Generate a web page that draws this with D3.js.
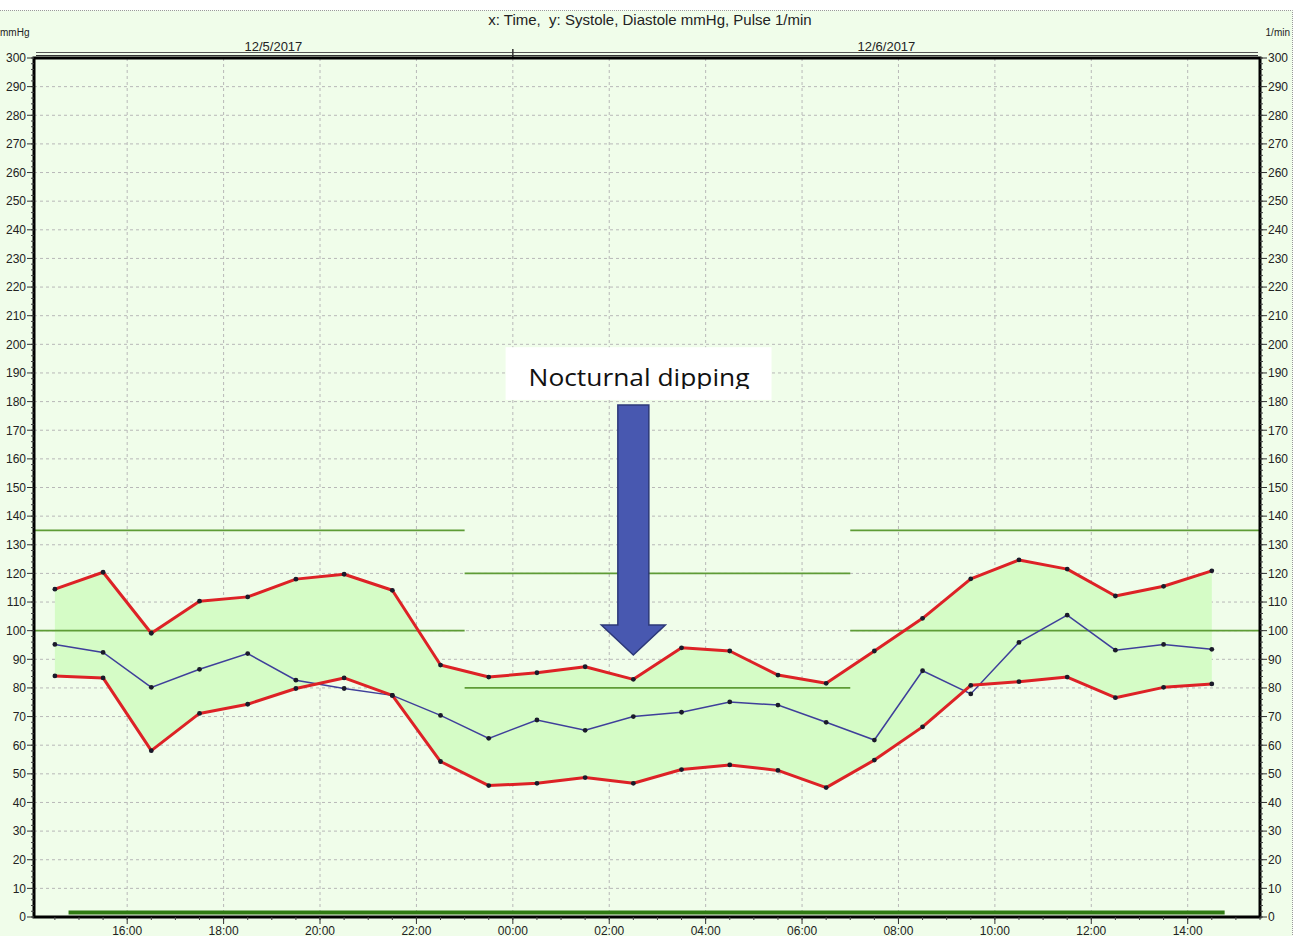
<!DOCTYPE html>
<html>
<head>
<meta charset="utf-8">
<script src="https://cdn.jsdelivr.net/npm/d3@7"></script>
<style>
  body { margin: 0; background: #fff; }
  svg { display: block; font-family: "Liberation Sans", Arial, sans-serif; }
  text { white-space: pre; }
</style>
</head>
<body>
<div id="chart"></div>
<script>
// measurement times (one reading per hour)
const times = [
  "2017-12-05T14:30", "2017-12-05T15:30", "2017-12-05T16:30", "2017-12-05T17:30",
  "2017-12-05T18:30", "2017-12-05T19:30", "2017-12-05T20:30", "2017-12-05T21:30",
  "2017-12-05T22:30", "2017-12-05T23:30", "2017-12-06T00:30", "2017-12-06T01:30",
  "2017-12-06T02:30", "2017-12-06T03:30", "2017-12-06T04:30", "2017-12-06T05:30",
  "2017-12-06T06:30", "2017-12-06T07:30", "2017-12-06T08:30", "2017-12-06T09:30",
  "2017-12-06T10:30", "2017-12-06T11:30", "2017-12-06T12:30", "2017-12-06T13:30",
  "2017-12-06T14:30"
];
const systole = [114.5, 120.4, 99.1, 110.3, 111.8, 118.0, 119.7, 114.1, 88.0, 83.8, 85.3, 87.4, 83.0,
  94.0, 92.9, 84.5, 81.6, 92.9, 104.3, 118.1, 124.7, 121.5, 112.1, 115.5, 120.9];
const diastole = [84.2, 83.5, 58.1, 71.1, 74.3, 79.8, 83.5, 77.4, 54.3, 45.9, 46.7, 48.7, 46.7,
  51.5, 53.1, 51.2, 45.2, 54.8, 66.4, 80.9, 82.2, 83.8, 76.6, 80.2, 81.4];
const pulse = [95.2, 92.4, 80.2, 86.5, 92.0, 82.7, 79.8, 77.4, 70.4, 62.4, 68.8, 65.2, 70.0,
  71.5, 75.1, 74.0, 68.0, 61.8, 86.0, 77.9, 95.9, 105.4, 93.2, 95.2, 93.5];

// day / night limit lines [start, end, value]
const limits = [
  ["2017-12-05T14:04", "2017-12-05T23:00", 135],
  ["2017-12-05T14:04", "2017-12-05T23:00", 100],
  ["2017-12-05T23:00", "2017-12-06T07:00", 120],
  ["2017-12-05T23:00", "2017-12-06T07:00", 80],
  ["2017-12-06T07:00", "2017-12-06T15:30", 135],
  ["2017-12-06T07:00", "2017-12-06T15:30", 100]
];
// 24h measurement period bar
const period = ["2017-12-05T14:47", "2017-12-06T14:46", 1.6];

const dayLabels = ["12/5/2017", "12/6/2017"];
const xDomain = ["2017-12-05T14:04", "2017-12-06T15:30"];
const yTicks = d3.range(0, 301, 10);

const parse = d3.timeParse("%Y-%m-%dT%H:%M");

// set the dimensions and margins of the graph
var margin = {top: 58, right: 34, bottom: 19, left: 34},
    W = 1294, H = 936,
    width = W - margin.left - margin.right,
    height = H - margin.top - margin.bottom;

var x = d3.scaleTime().domain(xDomain.map(parse)).range([0, width]);
var y = d3.scaleLinear().domain([0, 300]).range([height, 0]);

const data = times.map((t, i) => ({ ts: parse(t), sys: systole[i], dia: diastole[i], pul: pulse[i] }));

var svgRoot = d3.select("#chart").append("svg")
    .attr("width", W)
    .attr("height", H);

// outer panel
svgRoot.append("rect")
    .attr("x", -2).attr("y", 10.5)
    .attr("width", 1294.5).attr("height", 930)
    .attr("fill", "#f0fdea")
    .attr("stroke", "#9a9a9a")
    .attr("stroke-dasharray", "1,1");

// title texts
svgRoot.append("text")
    .attr("x", 650).attr("y", 25)
    .attr("text-anchor", "middle")
    .attr("font-size", 15).attr("fill", "#222")
    .text("x: Time,  y: Systole, Diastole mmHg, Pulse 1/min");
svgRoot.append("text")
    .attr("x", 0).attr("y", 36)
    .attr("font-size", 10).attr("fill", "#222")
    .text("mmHg");
svgRoot.append("text")
    .attr("x", 1290).attr("y", 36)
    .attr("text-anchor", "end")
    .attr("font-size", 10).attr("fill", "#222")
    .text("1/min");

var svg = svgRoot.append("g")
    .attr("transform", "translate(" + margin.left + "," + margin.top + ")");

// date bar above plot
const midnight = parse("2017-12-06T00:00");
svg.append("line")
    .attr("x1", 2).attr("x2", width - 2)
    .attr("y1", -5.5).attr("y2", -5.5)
    .attr("stroke", "#555").attr("stroke-width", 1);
svg.append("line")
    .attr("x1", 2).attr("x2", width - 2)
    .attr("y1", -2.5).attr("y2", -2.5)
    .attr("stroke", "#333").attr("stroke-width", 1);
svg.append("line")
    .attr("x1", x(midnight)).attr("x2", x(midnight))
    .attr("y1", -9).attr("y2", -1)
    .attr("stroke", "#333").attr("stroke-width", 1.5);
const daySpans = [[x.range()[0], x(midnight)], [x(midnight), x.range()[1]]];
svg.selectAll(".daylab")
  .data(dayLabels)
  .enter().append("text")
    .attr("x", (d, i) => (daySpans[i][0] + daySpans[i][1]) / 2)
    .attr("y", -7.5)
    .attr("text-anchor", "middle")
    .attr("font-size", 13).attr("fill", "#222")
    .text(d => d);

// grid
svg.selectAll(".hgrid")
  .data(yTicks.slice(1, -1))
  .enter().append("line")
    .attr("x1", 0).attr("x2", width)
    .attr("y1", d => y(d)).attr("y2", d => y(d))
    .attr("stroke", "#b8b8b8").attr("stroke-dasharray", "3,3");
const xTicks = x.ticks(d3.timeHour.every(2));
svg.selectAll(".vgrid")
  .data(xTicks)
  .enter().append("line")
    .attr("x1", d => x(d)).attr("x2", d => x(d))
    .attr("y1", 0).attr("y2", height)
    .attr("stroke", "#b8b8b8").attr("stroke-dasharray", "3,3");

// band between systole and diastole
var band = d3.area()
    .x(d => x(d.ts))
    .y0(d => y(d.dia))
    .y1(d => y(d.sys));
svg.append("path")
    .datum(data)
    .attr("fill", "#d5fcc6")
    .attr("d", band);

// limit lines
svg.selectAll(".limit")
  .data(limits)
  .enter().append("line")
    .attr("x1", d => x(parse(d[0]))).attr("x2", d => x(parse(d[1])))
    .attr("y1", d => y(d[2])).attr("y2", d => y(d[2]))
    .attr("stroke", "#5e9c36").attr("stroke-width", 1.8);

// measurement period bar
svg.append("line")
    .attr("x1", x(parse(period[0]))).attr("x2", x(parse(period[1])))
    .attr("y1", y(period[2])).attr("y2", y(period[2]))
    .attr("stroke", "#2f7a12").attr("stroke-width", 4);

// series lines
function line(key) {
  return d3.line().x(d => x(d.ts)).y(d => y(d[key]));
}
svg.append("path").datum(data)
    .attr("fill", "none").attr("stroke", "#3f3f9a").attr("stroke-width", 1.5)
    .attr("d", line("pul"));
["sys", "dia"].forEach(k => {
  svg.append("path").datum(data)
      .attr("fill", "none").attr("stroke", "#dd2226").attr("stroke-width", 3)
      .attr("stroke-linejoin", "round")
      .attr("d", line(k));
});
["sys", "dia", "pul"].forEach(k => {
  svg.selectAll(".dot-" + k)
    .data(data)
    .enter().append("circle")
      .attr("cx", d => x(d.ts)).attr("cy", d => y(d[k]))
      .attr("r", 2.4)
      .attr("fill", "#1a1a2a");
});

// frame
svg.append("rect")
    .attr("x", 0).attr("y", 0)
    .attr("width", width).attr("height", height)
    .attr("fill", "none").attr("stroke", "#000").attr("stroke-width", 3);

// y axes
const minorY = d3.range(0, 301, 2);
function yAxis(side) {
  const dir = side === "left" ? -1 : 1;
  const x0 = side === "left" ? 0 : width;
  const g = svg.append("g");
  g.selectAll("line.minor").data(minorY).enter().append("line")
      .attr("x1", x0).attr("x2", x0 + dir * 3)
      .attr("y1", d => y(d)).attr("y2", d => y(d))
      .attr("stroke", "#444");
  g.selectAll("line.major").data(yTicks).enter().append("line")
      .attr("x1", x0).attr("x2", x0 + dir * 7)
      .attr("y1", d => y(d)).attr("y2", d => y(d))
      .attr("stroke", "#333");
  g.selectAll("text").data(yTicks).enter().append("text")
      .attr("x", x0 + dir * 8)
      .attr("y", d => y(d) + 4.3)
      .attr("text-anchor", side === "left" ? "end" : "start")
      .attr("font-size", 12).attr("fill", "#222")
      .text(d => d);
}
yAxis("left");
yAxis("right");

// x axis
const minorX = x.ticks(d3.timeMinute.every(30));
svg.selectAll(".xminor").data(minorX).enter().append("line")
    .attr("x1", d => x(d)).attr("x2", d => x(d))
    .attr("y1", height).attr("y2", height + 3)
    .attr("stroke", "#444");
svg.selectAll(".xmajor").data(xTicks).enter().append("line")
    .attr("x1", d => x(d)).attr("x2", d => x(d))
    .attr("y1", height).attr("y2", height + 7)
    .attr("stroke", "#333");
svg.selectAll(".xlab").data(xTicks).enter().append("text")
    .attr("x", d => x(d)).attr("y", height + 17.5)
    .attr("text-anchor", "middle")
    .attr("font-size", 12).attr("fill", "#222")
    .text(d3.timeFormat("%H:%M"));

// annotation: Nocturnal dipping
const note = { t0: "2017-12-05T23:51", t1: "2017-12-06T05:22", v0: 180.6, v1: 199 };
svg.append("rect")
    .attr("x", x(parse(note.t0))).attr("y", y(note.v1))
    .attr("width", x(parse(note.t1)) - x(parse(note.t0)))
    .attr("height", y(note.v0) - y(note.v1))
    .attr("fill", "#fff");
svg.append("clipPath").attr("id", "noteclip")
  .append("rect")
    .attr("x", x(parse(note.t0))).attr("y", y(note.v1))
    .attr("width", x(parse(note.t1)) - x(parse(note.t0)))
    .attr("height", y(184.4) - y(note.v1));
svg.append("text")
    .attr("clip-path", "url(#noteclip)")
    .attr("x", (x(parse(note.t0)) + x(parse(note.t1))) / 2 + 0.5)
    .attr("y", y(185.6))
    .attr("text-anchor", "middle")
    .attr("font-family", "'Open Sans', Lato, sans-serif")
    .attr("font-size", 24).attr("fill", "#111")
    .attr("textLength", 221).attr("lengthAdjust", "spacingAndGlyphs")
    .text("Nocturnal dipping");

// arrow, in data units
const arrowT = parse("2017-12-06T02:30");
const shaftHalf = 15.5, headHalf = 32;
const ax = x(arrowT);
const aTop = y(178.8), aNeck = y(102), aTip = y(91.5);
svg.append("path")
    .attr("d", d3.line()([
      [ax - shaftHalf, aTop], [ax + shaftHalf, aTop], [ax + shaftHalf, aNeck],
      [ax + headHalf, aNeck], [ax, aTip], [ax - headHalf, aNeck],
      [ax - shaftHalf, aNeck]
    ]) + "Z")
    .attr("fill", "#4858b0")
    .attr("stroke", "#2c3878").attr("stroke-width", 1.5);
</script>
</body>
</html>
